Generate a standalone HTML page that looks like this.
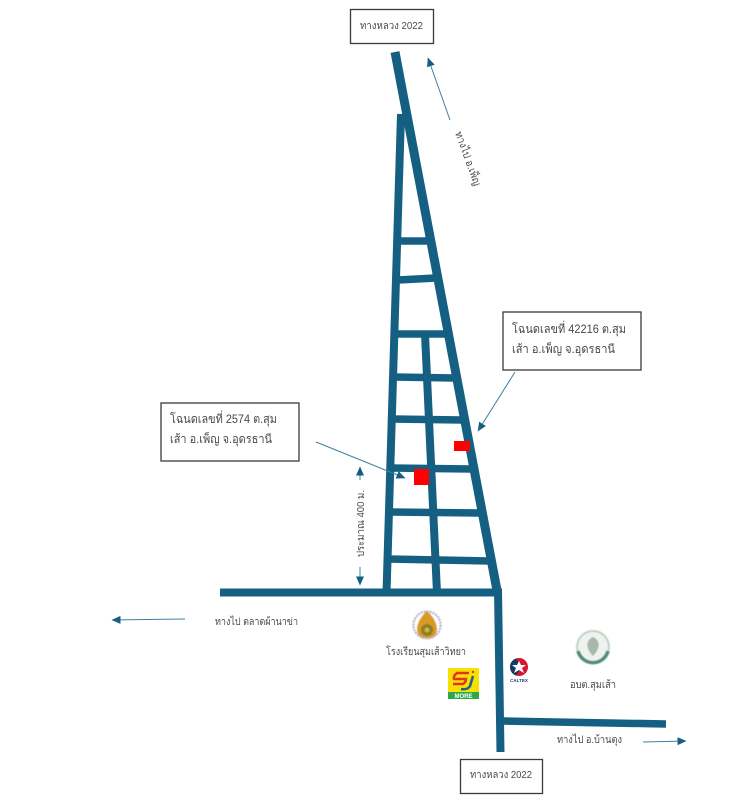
<!DOCTYPE html>
<html lang="th"><head><meta charset="utf-8"><title>แผนที่</title>
<style>html,body{margin:0;padding:0;background:#fff}svg{display:block}
text{font-family:"Liberation Sans","DejaVu Sans","Noto Sans CJK JP",sans-serif;fill:#484848;font-size:10.500px}
.big{font-size:12px}</style></head><body>
<svg width="735" height="800" viewBox="0 0 735 800" xmlns="http://www.w3.org/2000/svg">
<defs><marker id="a" markerWidth="9" markerHeight="8" refX="8.500" refY="4" orient="auto" markerUnits="userSpaceOnUse"><path d="M0 0L9 4L0 8Z" fill="#156082"/></marker>
<filter id="s" x="-10%" y="-10%" width="120%" height="120%"><feGaussianBlur stdDeviation="0.4"/></filter></defs>
<g stroke="#156082" fill="none">
<path stroke-width="9" d="M395 52L497.500 593"/>
<path stroke-width="8" d="M401 114L386.500 593"/>
<path stroke-width="8" d="M425 334L437 593"/>
<path stroke-width="8" d="M220 592.500H502"/>
<path stroke-width="8" d="M498 590L500.500 752"/>
<path stroke-width="7.500" d="M503 721L666 724"/>
<path stroke-width="7.500" d="M398 241H430M398 280L436 278M395 334H446M394 377L454 378M392 419L462 420M390 468L472 469M389 512L480 513M388 559L490 561"/>
</g>
<g fill="#fff" stroke="#3a3a3a" stroke-width="1.300">
<rect x="350.500" y="9.500" width="83" height="34"/><rect x="460.500" y="759.500" width="82" height="34"/>
<rect x="161" y="403" width="138" height="58"/><rect x="503" y="312" width="138" height="58"/>
</g>
<rect x="414" y="469" width="15" height="16" fill="#f00"/><rect x="454" y="441" width="16" height="10" fill="#f00"/>
<g stroke="#3d7f9f" stroke-width="1" fill="none">
<path marker-end="url(#a)" d="M450 120L428 58"/><path marker-end="url(#a)" d="M316 442L405 478"/><path marker-end="url(#a)" d="M515 372L478 431"/>
<path marker-end="url(#a)" d="M360 480V467"/><path marker-end="url(#a)" d="M360 567V585"/><path marker-end="url(#a)" d="M185 619L112 620"/><path marker-end="url(#a)" d="M643 742L686 741"/>
</g>
<text x="360" y="29" textLength="63" lengthAdjust="spacingAndGlyphs">ทางหลวง 2022</text>
<text x="470" y="778" textLength="62" lengthAdjust="spacingAndGlyphs">ทางหลวง 2022</text>
<text class="big" x="170" y="423" textLength="107" lengthAdjust="spacingAndGlyphs">โฉนดเลขที่ 2574 ต.สุม</text>
<text class="big" x="170" y="443" textLength="102" lengthAdjust="spacingAndGlyphs">เส้า อ.เพ็ญ จ.อุดรธานี</text>
<text class="big" x="512" y="333" textLength="114" lengthAdjust="spacingAndGlyphs">โฉนดเลขที่ 42216 ต.สุม</text>
<text class="big" x="512" y="353" textLength="103" lengthAdjust="spacingAndGlyphs">เส้า อ.เพ็ญ จ.อุดรธานี</text>
<text transform="translate(455 133) rotate(70)" textLength="57" lengthAdjust="spacingAndGlyphs">ทางไป อ.เพ็ญ</text>
<text transform="translate(364 557) rotate(-90)" textLength="67" lengthAdjust="spacingAndGlyphs">ประมาณ 400 ม.</text>
<text x="215" y="625" textLength="83" lengthAdjust="spacingAndGlyphs">ทางไป ตลาดผ้านาข่า</text>
<text x="386" y="655" textLength="80" lengthAdjust="spacingAndGlyphs">โรงเรียนสุมเส้าวิทยา</text>
<text x="570" y="688" textLength="46" lengthAdjust="spacingAndGlyphs">อบต.สุมเส้า</text>
<text x="557" y="743" textLength="65" lengthAdjust="spacingAndGlyphs">ทางไป อ.บ้านตุง</text>
<g filter="url(#s)">
<circle cx="427" cy="625" r="13.500" fill="#fff" stroke="#a9a6c4" stroke-width="2" stroke-dasharray="2 1"/>
<path d="M427 611C433 616 437 623 437 629C437 636 432 638 427 638C422 638 417 636 417 629C417 623 421 616 427 611Z" fill="#d99a24"/>
<circle cx="427" cy="630" r="6" fill="#86802a"/><circle cx="427" cy="630" r="2.500" fill="#d9b040"/>
</g>
<rect x="448" y="668" width="31" height="31" fill="#f6e100"/><rect x="448" y="692" width="31" height="7" fill="#2ea84a"/>
<path d="M469 673H457Q453 676 454 679H466Q466 682 463 684H453" fill="none" stroke="#e0342a" stroke-width="2.500"/>
<path d="M473 676L470 686Q468 690 461 689" fill="none" stroke="#1f5f8a" stroke-width="2.500"/><circle cx="473" cy="672" r="1.200" fill="#e0342a"/>
<text x="463.500" y="698" text-anchor="middle" style="font-size:6px;font-weight:bold;fill:#fff">MORE</text>
<circle cx="519" cy="667" r="9" fill="#d7152f"/><path d="M510 667A9 9 0 0 1 516 658.500L522 667L516 675.500A9 9 0 0 1 510 667Z" fill="#123a6b"/>
<path d="M519 661L521 665L526 665L522 668L524 673L519 670L514 673L516 668L512 665L517 665Z" fill="#fff"/>
<text x="519" y="682" text-anchor="middle" style="font-size:4.500px;font-weight:bold;fill:#123a6b">CALTEX</text>
<g filter="url(#s)">
<circle cx="593" cy="647" r="16" fill="#eff3ef" stroke="#c3d0c6" stroke-width="2"/>
<path d="M578 651A15.500 15.500 0 0 0 608 651" fill="none" stroke="#4f8a7a" stroke-width="3.500"/>
<path d="M593 637C600 640 601 648 593 656C585 648 586 640 593 637Z" fill="#a5b8ab"/>
</g>
</svg></body></html>
